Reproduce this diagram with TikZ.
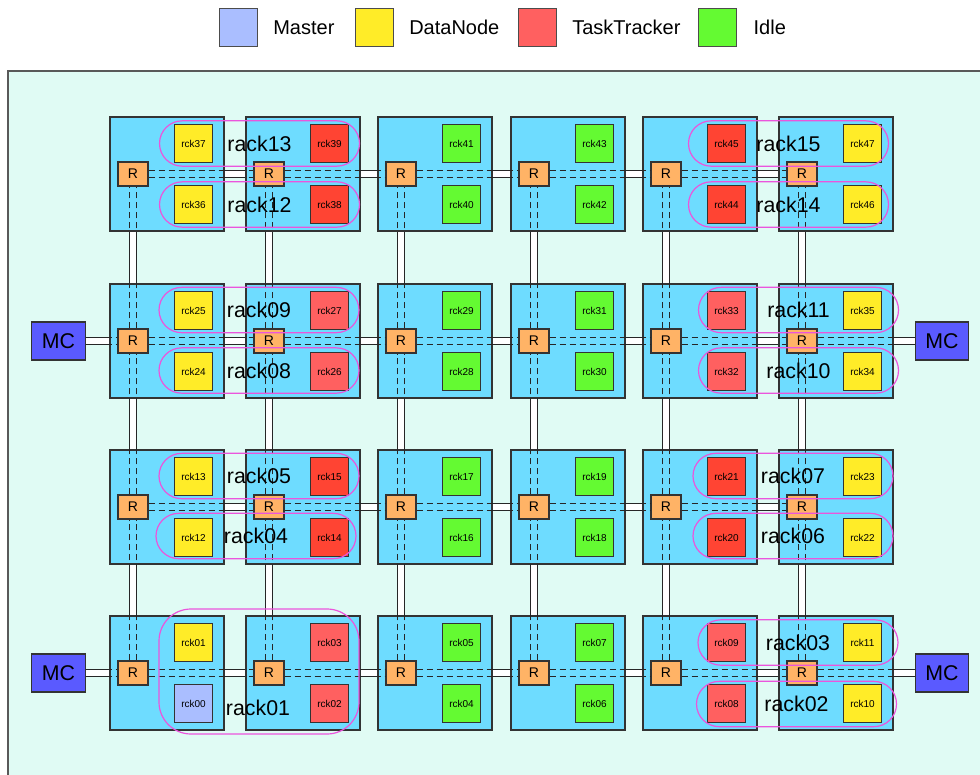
\documentclass[tikz,border=0pt]{standalone}
\usepackage{fontspec}
\setmainfont{Liberation Sans}
\usepackage{tikz}
\usetikzlibrary{positioning}

\definecolor{bgmint}{RGB}{224,251,244}
\definecolor{tilecyan}{RGB}{110,220,255}
\definecolor{routerorange}{RGB}{255,179,102}
\definecolor{dnyellow}{RGB}{255,236,40}
\definecolor{ttlight}{RGB}{255,96,96}
\definecolor{ttdark}{RGB}{255,68,51}
\definecolor{idlegreen}{RGB}{100,250,50}
\definecolor{masterblue}{RGB}{170,190,255}
\definecolor{mcblue}{RGB}{90,90,255}
\definecolor{rackpink}{RGB}{235,85,220}

\pgfdeclarelayer{links}
\pgfsetlayers{links,main}

\begin{document}
\begin{tikzpicture}[
    x=0.75pt, y=-0.75pt,
    tile/.style={rectangle, draw=black!80, fill=tilecyan, line width=0.8pt,
        minimum width=85.5pt, minimum height=85.5pt, inner sep=0pt},
    core/.style={rectangle, draw=black!80, line width=0.8pt,
        minimum size=28.5pt, inner sep=0pt, font=\fontsize{7.5}{8}\selectfont},
    dn/.style={core, fill=dnyellow},
    idle/.style={core, fill=idlegreen},
    master/.style={core, fill=masterblue},
    router/.style={rectangle, draw=black!80, fill=routerorange, line width=0.8pt,
        minimum width=22.5pt, minimum height=18pt, inner sep=0pt,
        font=\fontsize{10.5}{12}\selectfont},
    mc/.style={rectangle, draw=black!80, fill=mcblue, line width=0.8pt,
        minimum width=40pt, minimum height=28.5pt, inner sep=0pt,
        font=\fontsize{16}{18}\selectfont},
    link/.style={draw=black!85, line width=0.9pt, double=white, double distance=4.8pt},
    linkdash/.style={draw=black!85, line width=0.9pt, dash pattern=on 5pt off 2.5pt},
    rack/.style={rectangle, draw=rackpink, line width=0.9pt, rounded corners=17pt,
        minimum width=150pt, minimum height=34pt, inner sep=0pt,
        font=\fontsize{16}{18}\selectfont},
    racktext/.style={inner sep=0pt, font=\fontsize{16}{18}\selectfont},
    legbox/.style={rectangle, draw=black!70, line width=0.8pt,
        minimum width=28pt, minimum height=29pt, inner sep=0pt},
    legtext/.style={inner sep=0pt, font=\fontsize{15}{18}\selectfont}
]
\useasboundingbox (0,0) rectangle (980,774);

% legend
\node[legbox, fill=masterblue] (legmaster) at (238.5,27.5) {};
\node[legtext, right=11.5pt of legmaster] {Master};
\node[legbox, fill=dnyellow] (legdn) at (374.5,27.5) {};
\node[legtext, right=11.5pt of legdn] {DataNode};
\node[legbox, fill=ttlight] (legtt) at (537.5,27.5) {};
\node[legtext, right=11.5pt of legtt] {TaskTracker};
\node[legbox, fill=idlegreen] (legidle) at (717.5,27.5) {};
\node[legtext, right=12.5pt of legidle] {Idle};

% chip area
\begin{pgfonlayer}{links}
\draw[draw=black!65, line width=1.5pt, fill=bgmint] (8,71) rectangle (1000,800);
\end{pgfonlayer}

% tiles with router and two cores
\foreach \rowi/\y/\ttcol in {0/616/ttlight, 1/450/ttdark, 2/284/ttlight, 3/117/ttdark}{
  \tikzset{tt/.style={core, fill=\ttcol}}
  \foreach \coli/\x/\kind in {0/110/dn, 1/246/tt, 2/378/idle, 3/511/idle, 4/643/tt, 5/779/dn}{
    \pgfmathtruncatemacro\lo{2*(6*\rowi+\coli)}
    \pgfmathtruncatemacro\hi{\lo+1}
    \edef\loname{\ifnum\lo<10 0\fi\lo}
    \edef\hiname{\ifnum\hi<10 0\fi\hi}
    \ifnum\lo=0 \def\lostyle{master}\else\let\lostyle\kind\fi
    \node[tile] (tile\coli\rowi) at (\x+57,\y+57) {};
    \node[router] (r\coli\rowi) at (\x+23,\y+57) {R};
    \node[\kind] (rck\hiname) at (\x+83.5,\y+26.5) {rck\hiname};
    \node[\lostyle] (rck\loname) at (\x+83.5,\y+87.5) {rck\loname};
  }
}

% memory controllers
\node[mc] (mcw2) at (58.5,341) {MC};
\node[mc] (mcw0) at (58.5,673) {MC};
\node[mc] (mce2) at (942,341) {MC};
\node[mc] (mce0) at (942,673) {MC};

% mesh links (x direction)
\foreach \a/\b in {mcw2/r02, mcw0/r00, r52/mce2, r50/mce0}{
  \begin{pgfonlayer}{links}
    \draw[link] (\a) -- (\b);
  \end{pgfonlayer}
  \draw[linkdash, transform canvas={yshift=2.85pt}] (\a) -- (\b);
  \draw[linkdash, transform canvas={yshift=-2.85pt}] (\a) -- (\b);
}
\foreach \rowi in {0,...,3}{
  \foreach \coli in {0,...,4}{
    \pgfmathtruncatemacro\nxt{\coli+1}
    \begin{pgfonlayer}{links}
      \draw[link] (r\coli\rowi) -- (r\nxt\rowi);
    \end{pgfonlayer}
    \draw[linkdash, transform canvas={yshift=2.85pt}] (r\coli\rowi) -- (r\nxt\rowi);
    \draw[linkdash, transform canvas={yshift=-2.85pt}] (r\coli\rowi) -- (r\nxt\rowi);
  }
}

% mesh links (y direction)
\foreach \coli in {0,...,5}{
  \foreach \rowi in {0,...,2}{
    \pgfmathtruncatemacro\up{\rowi+1}
    \begin{pgfonlayer}{links}
      \draw[link] (r\coli\rowi) -- (r\coli\up);
    \end{pgfonlayer}
    \draw[linkdash, transform canvas={xshift=2.85pt}] (r\coli\rowi) -- (r\coli\up);
    \draw[linkdash, transform canvas={xshift=-2.85pt}] (r\coli\rowi) -- (r\coli\up);
  }
}

% racks
\foreach \name/\px/\py in {13/259.5/143.5, 12/259.5/204.5, 15/788.5/143.5, 14/788.5/204.5,
    09/259/310, 08/259/370.5, 11/798.5/310, 10/798.5/370.5,
    05/259/476, 04/256/536, 07/793/476, 06/793/536,
    03/798/642.5, 02/796.5/704}{
  \node[rack] (rack\name) at (\px,\py) {rack\name};
}
\node[rack, minimum height=93.75pt, rounded corners=24pt] (rack01) at (259,671.5) {};
\node[racktext] (rack01text) at (258,708) {rack01};

\end{tikzpicture}
\end{document}
